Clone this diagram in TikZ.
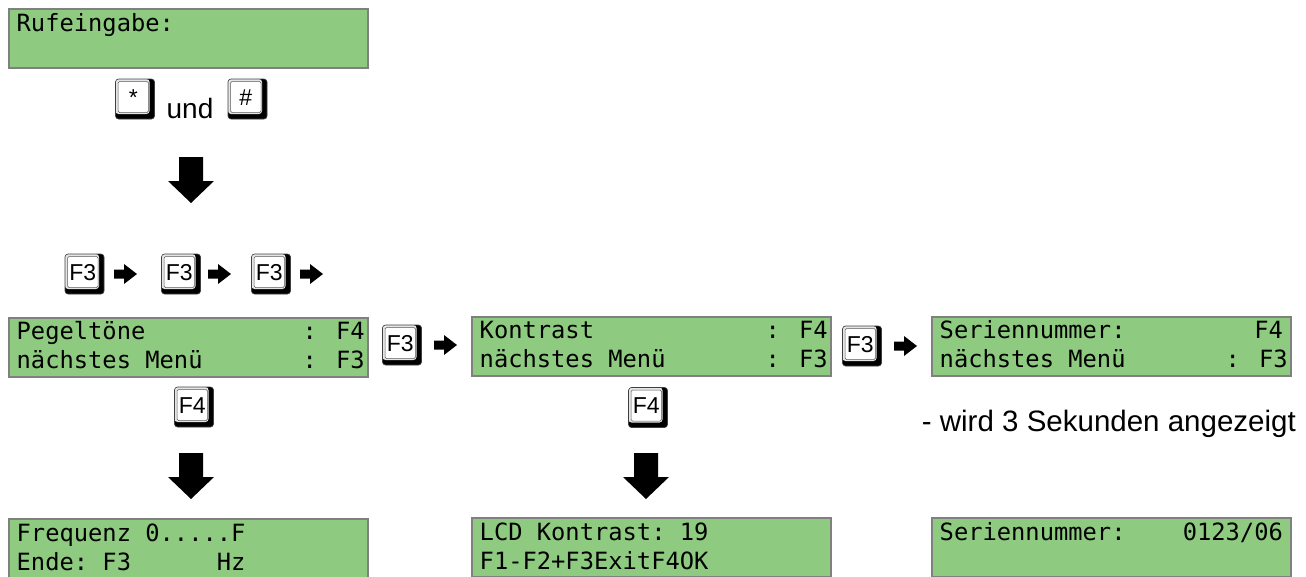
\documentclass[tikz,border=0pt]{standalone}
\usepackage{fontspec}
\setmainfont{Liberation Sans}
\newfontfamily\lcdfont{DejaVu Sans Mono}
\definecolor{lcdgreen}{RGB}{142,203,128}
\definecolor{lcdframe}{RGB}{128,128,128}
\begin{document}
\begin{tikzpicture}[x=1pt,y=-1pt,
  lcd/.style={draw=lcdframe, line width=2pt, fill=lcdgreen, minimum width=359pt, minimum height=59pt, inner sep=0pt, anchor=north west},
  lcdtxt/.style={font=\lcdfont\fontsize{23.75}{28}\selectfont, inner sep=0pt, anchor=base west},
  keybox/.style={rectangle, rounded corners=3pt, minimum width=39pt, minimum height=40pt, inner sep=0pt,
    draw=black!75, line width=0.6pt, fill=black, text height=12pt, text depth=0pt,
    font=\fontsize{23}{24}\selectfont,
    path picture={
      \fill[gray!20] (path picture bounding box.north west) rectangle ([xshift=-5pt,yshift=5pt]path picture bounding box.south east);
      \filldraw[fill=white, draw=black!65, line width=0.5pt, rounded corners=1.5pt]
        ([xshift=2.5pt,yshift=-2.5pt]path picture bounding box.north west) rectangle ([xshift=-6pt,yshift=6.5pt]path picture bounding box.south east);
    }},
  plain/.style={inner sep=0pt, font=\fontsize{28}{32}\selectfont},
  note/.style={inner sep=0pt, font=\fontsize{29.5}{34}\selectfont},
  pics/bigdown/.style={code={\fill[black] (-12,0) -- (12,0) -- (12,24) -- (23,24) -- (0,46) -- (-23,24) -- (-12,24) -- cycle;}},
  pics/smallright/.style={code={\fill[black] (0,-4.5) -- (10,-4.5) -- (10,-10) -- (23,0) -- (10,10) -- (10,4.5) -- (0,4.5) -- cycle;}}
]
\useasboundingbox (0,0) rectangle (1306,576);

% --- LCD boxes ---
\node[lcd] (ruf) at (8,8) {};
\node[lcdtxt] (ruft) at (16.5,31) {Rufeingabe:};

\node[lcd] (peg) at (8,317) {};
\node[lcdtxt] (peg1) at (16.5,339) {Pegeltöne~~~~~~~~~~~: F4};
\node[lcdtxt] (peg2) at (16.5,368) {nächstes~Menü~~~~~~~: F3};

\node[lcd] (kon) at (471,316) {};
\node[lcdtxt] (kon1) at (479.5,338) {Kontrast~~~~~~~~~~~~: F4};
\node[lcdtxt] (kon2) at (479.5,367) {nächstes~Menü~~~~~~~: F3};

\node[lcd] (ser) at (931,316) {};
\node[lcdtxt] (ser1) at (939.5,338) {Seriennummer:~~~~~~~~~F4};
\node[lcdtxt] (ser2) at (939.5,367) {nächstes~Menü~~~~~~~: F3};

\node[lcd] (frq) at (8,518) {};
\node[lcdtxt] (frq1) at (16.5,541) {Frequenz~0.....F};
\node[lcdtxt] (frq2) at (16.5,570) {Ende:~F3~~~~~~Hz};

\node[lcd] (lcdk) at (471,517) {};
\node[lcdtxt] (lcdk1) at (479.5,540) {LCD~Kontrast:~19};
\node[lcdtxt] (lcdk2) at (479.5,569) {F1-F2+F3ExitF4OK};

\node[lcd] (sern) at (931,517) {};
\node[lcdtxt] (sern1) at (939.5,540) {Seriennummer:~~~~0123/06};

% --- keys ---
\node[keybox] (kstar) at (135,99) {*\kern3.5pt};
\node[plain, anchor=base] (und) at (190,118) {und};
\node[keybox] (khash) at (247.5,99) {\#\kern3.5pt};

\node[keybox] (k1) at (84.5,274) {F3\kern3.5pt};
\node[keybox] (k2) at (181,274) {F3\kern3.5pt};
\node[keybox] (k3) at (271,274) {F3\kern3.5pt};
\pic at (114,274) {smallright};
\pic at (208,274) {smallright};
\pic at (300,274) {smallright};

\node[keybox] (k4) at (402,345) {F3\kern3.5pt};
\pic at (434,345) {smallright};
\node[keybox] (k5) at (862,346) {F3\kern3.5pt};
\pic at (894,346) {smallright};

\node[keybox] (f4a) at (194,407) {F4\kern3.5pt};
\node[keybox] (f4b) at (648,407.5) {F4\kern3.5pt};

% --- big arrows ---
\pic at (191,157) {bigdown};
\pic at (191,453) {bigdown};
\pic at (646,453) {bigdown};

\node[note, anchor=base east] (note) at (1296,431) {- wird 3 Sekunden angezeigt};
\end{tikzpicture}
\end{document}
